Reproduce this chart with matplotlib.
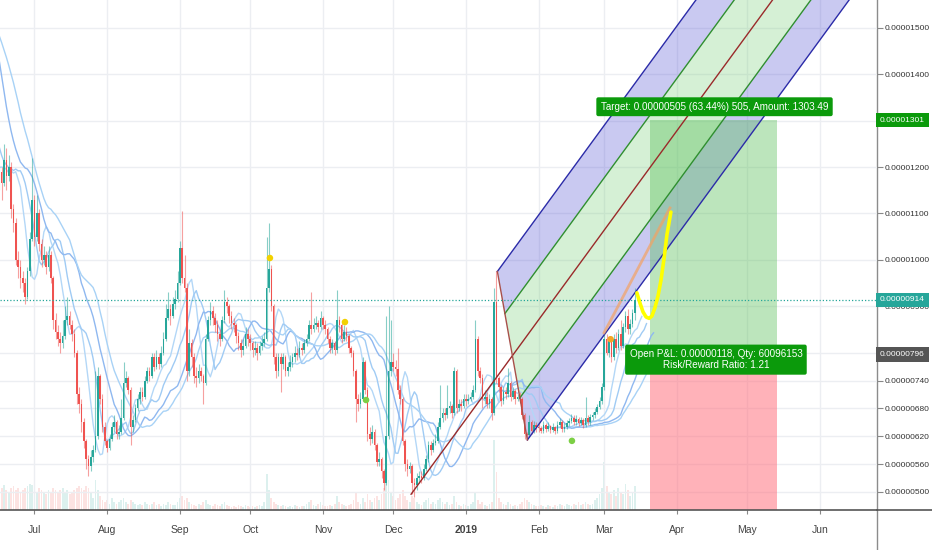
import numpy as np
import pandas as pd
import matplotlib
matplotlib.use('Agg')
import matplotlib.pyplot as plt
import matplotlib.dates as mdates
from matplotlib.patches import Rectangle, Polygon
from matplotlib.lines import Line2D
import matplotlib.transforms as mtrans

plt.rcParams['font.family'] = ['Liberation Sans', 'DejaVu Sans']

# prices are in units of 1e-8 (satoshi), one candle per day from 2018-06-16
start = pd.Timestamp('2018-06-16')
first_open = 1170
closes = [
    1190, 1165, 1215, 1180, 1200, 1110, 1080, 1000, 985, 960,
    950, 920, 975, 1045, 1130, 1050, 1100, 1035, 1000, 1010,
    985, 1010, 960, 870, 845, 830, 820, 835, 870, 880,
    860, 840, 800, 710, 690, 650, 610, 570, 555, 575,
    590, 620, 750, 700, 640, 610, 595, 615, 640, 650,
    625, 630, 660, 735, 745, 720, 640, 655, 680, 700,
    715, 705, 740, 760, 750, 790, 770, 790, 775, 800,
    830, 875, 895, 880, 905, 915, 950, 1025, 960, 940,
    760, 820, 790, 750, 745, 760, 750, 735, 830, 870,
    890, 875, 860, 840, 830, 870, 910, 900, 880, 865,
    860, 835, 820, 805, 815, 840, 830, 820, 805, 810,
    800, 815, 820, 830, 940, 980, 900, 790, 760, 790,
    775, 790, 760, 770, 780, 790, 800, 795, 810, 805,
    820, 830, 860, 850, 860, 865, 855, 875, 860, 850,
    830, 810, 820, 805, 870, 860, 830, 845, 835, 810,
    800, 760, 700, 690, 700, 780, 720, 625, 615, 630,
    600, 565, 570, 545, 520, 620, 760, 780, 770, 765,
    720, 700, 610, 560, 550, 555, 520, 515, 530, 535,
    530, 550, 570, 600, 590, 605, 610, 640, 660, 670,
    665, 680, 685, 670, 760, 680, 690, 685, 700, 695,
    700, 705, 720, 830, 760, 745, 700, 705, 690, 700,
    670, 910, 745, 725, 695, 715, 710, 735, 705, 718,
    700, 705, 700, 665, 625, 622, 650, 632, 645, 640,
    638, 632, 645, 636, 642, 634, 640, 632, 645, 650,
    636, 640, 648, 652, 660, 650, 658, 648, 655, 645,
    660, 650, 662, 665, 672, 682, 695, 725, 830, 800,
    825, 790, 830, 810, 840, 815, 855, 880, 850, 862, 885, 914,
]
highs = [
    1205, 1200, 1250, 1240, 1225, 1210, 1120, 1090, 1020, 1000,
    975, 960, 985, 1060, 1220, 1140, 1140, 1110, 1045, 1030,
    1020, 1030, 1020, 965, 885, 860, 845, 870, 900, 920,
    890, 870, 850, 805, 725, 700, 660, 615, 580, 590,
    600, 760, 770, 755, 710, 650, 615, 625, 650, 665,
    655, 645, 700, 780, 760, 750, 725, 665, 690, 710,
    725, 725, 750, 770, 770, 800, 800, 805, 800, 815,
    845, 905, 930, 905, 920, 935, 975, 1040, 1105, 1010,
    950, 850, 830, 800, 770, 775, 770, 755, 840, 880,
    910, 900, 885, 870, 850, 880, 935, 920, 905, 890,
    875, 865, 845, 830, 830, 855, 850, 840, 825, 825,
    820, 825, 835, 845, 1050, 1080, 990, 905, 800, 800,
    800, 800, 795, 780, 795, 800, 815, 810, 825, 820,
    830, 840, 870, 930, 875, 880, 870, 890, 880, 870,
    855, 835, 830, 825, 935, 880, 865, 860, 855, 840,
    815, 805, 765, 710, 715, 790, 785, 725, 640, 645,
    635, 605, 585, 575, 550, 880, 900, 870, 800, 785,
    810, 730, 705, 615, 570, 565, 560, 530, 540, 545,
    545, 560, 580, 610, 610, 615, 625, 650, 730, 680,
    680, 730, 695, 690, 770, 765, 700, 700, 710, 710,
    710, 715, 730, 870, 835, 770, 755, 720, 715, 710,
    705, 940, 976, 750, 730, 725, 725, 767, 740, 725,
    722, 712, 715, 705, 670, 630, 665, 655, 652, 650,
    648, 642, 652, 648, 650, 645, 648, 642, 652, 660,
    655, 648, 655, 660, 668, 665, 665, 662, 662, 660,
    705, 665, 668, 672, 680, 690, 705, 735, 840, 840,
    835, 830, 840, 845, 850, 870, 865, 890, 895, 872, 895, 940,
]
lows = [
    1150, 1130, 1160, 1150, 1170, 1090, 1060, 990, 960, 940,
    930, 905, 915, 965, 1040, 1030, 1040, 1020, 985, 990,
    970, 975, 950, 850, 830, 815, 800, 810, 830, 860,
    850, 825, 790, 690, 670, 630, 595, 550, 535, 545,
    565, 585, 615, 690, 630, 600, 585, 590, 610, 630,
    615, 615, 625, 655, 725, 710, 600, 630, 650, 675,
    690, 695, 700, 735, 740, 745, 760, 765, 765, 770,
    795, 825, 870, 860, 875, 895, 910, 945, 950, 930,
    740, 750, 770, 735, 725, 735, 740, 690, 730, 825,
    860, 860, 845, 825, 815, 825, 865, 885, 865, 850,
    845, 820, 805, 790, 795, 810, 815, 805, 790, 795,
    785, 795, 805, 815, 825, 930, 890, 775, 745, 750,
    715, 765, 750, 750, 760, 770, 780, 785, 790, 795,
    800, 815, 825, 840, 845, 850, 845, 850, 850, 840,
    820, 800, 800, 795, 800, 845, 820, 825, 825, 800,
    790, 750, 650, 675, 680, 695, 710, 610, 600, 605,
    590, 555, 555, 530, 505, 515, 615, 750, 760, 750,
    710, 690, 600, 545, 535, 540, 495, 490, 505, 520,
    520, 525, 545, 565, 580, 585, 600, 605, 635, 650,
    655, 660, 670, 660, 665, 670, 675, 675, 680, 685,
    690, 695, 700, 715, 750, 735, 680, 690, 680, 680,
    655, 665, 735, 715, 685, 690, 700, 705, 695, 700,
    690, 695, 692, 658, 615, 612, 618, 625, 626, 630,
    630, 626, 628, 630, 632, 628, 630, 625, 628, 640,
    630, 630, 636, 642, 648, 645, 645, 642, 644, 638,
    640, 645, 645, 655, 660, 668, 678, 690, 720, 795,
    790, 780, 785, 800, 805, 805, 810, 845, 840, 840, 855, 870,
]
volumes = [
    18, 22, 25, 20, 18, 22, 24, 20, 22, 18,
    20, 22, 24, 26, 25, 20, 18, 22, 20, 18,
    16, 20, 18, 22, 20, 18, 20, 22, 18, 20,
    16, 18, 20, 22, 24, 22, 20, 24, 22, 18,
    12, 30, 20, 14, 10, 8, 10, 6, 12, 8,
    6, 8, 10, 12, 8, 6, 10, 8, 6, 5,
    6, 5, 8, 6, 5, 6, 8, 5, 6, 4,
    6, 5, 8, 6, 5, 5, 8, 12, 14, 10,
    12, 8, 6, 5, 4, 6, 5, 8, 10, 6,
    5, 4, 6, 5, 4, 6, 8, 5, 4, 3,
    4, 3, 5, 4, 3, 5, 4, 3, 4, 3,
    4, 5, 4, 8, 36, 20, 12, 8, 6, 5,
    4, 5, 4, 3, 4, 3, 5, 4, 3, 4,
    4, 6, 8, 10, 5, 4, 6, 8, 5, 4,
    4, 5, 4, 6, 14, 8, 6, 5, 4, 5,
    6, 10, 18, 8, 6, 12, 8, 16, 10, 8,
    12, 14, 10, 16, 22, 42, 30, 18, 14, 10,
    12, 16, 20, 14, 10, 8, 14, 12, 8, 6,
    5, 8, 10, 12, 6, 8, 6, 10, 12, 8,
    6, 8, 5, 6, 14, 8, 5, 4, 6, 5,
    4, 6, 8, 18, 10, 6, 8, 5, 4, 6,
    8, 70, 38, 12, 8, 6, 5, 8, 6, 4,
    5, 4, 6, 8, 12, 10, 8, 6, 5, 4,
    4, 5, 4, 3, 5, 4, 3, 5, 4, 6,
    5, 4, 6, 5, 4, 6, 5, 8, 5, 6,
    8, 6, 5, 6, 10, 12, 16, 22, 48, 24,
    18, 16, 20, 14, 22, 18, 16, 26, 20, 14, 18, 24,
]
# closes before the first visible candle, only used to warm up the averages
pre_closes = [
    1450, 1480, 1500, 1520, 1540, 1560, 1580, 1600, 1620, 1640,
    1650, 1620, 1600, 1560, 1520, 1480, 1420, 1380,
    1340, 1300, 1260, 1230, 1210,
    1200, 1190, 1210, 1200, 1195, 1205, 1185,
]
ma_periods = [5, 8, 13, 21]
ma_shifts = [3, 5, 8, 8]

# drawings, days counted from the start date
pf_days = [175.6, 212.4, 225.2]
pf_prices = [495, 975, 612]
trend_days = [257.9, 286.0]
trend_prices = [843, 1112]
curve_days = [271.9, 273.2, 274.5, 275.8, 277.1, 278.3, 279.6, 280.9, 282.2, 283.5, 284.7, 286.4]
curve_prices = [929, 907, 888, 877, 874, 879, 897, 922, 957, 1004, 1054, 1103]
dot_days = [115.4, 147.4, 260.7, 156.4, 244.2]
dot_prices = [1004, 866, 829, 698, 610]
dot_colors = ['#f2d100', '#f2d100', '#f5a623', '#7ccf45', '#7ccf45']
entry, target, stop = 796, 1301, 379
pos_start, pos_end = '2019-03-20 12:00', '2019-05-13 14:00'
last_price = 914

yticks = [500, 560, 620, 680, 740, 800, 900, 1000, 1100, 1200, 1300, 1400, 1500]
hidden_ticks = [800, 1300]   # sit under the price tags
months = pd.date_range('2018-07-01', '2019-06-01', freq='MS')
month_labels = ['Jul', 'Aug', 'Sep', 'Oct', 'Nov', 'Dec', '2019', 'Feb', 'Mar', 'Apr', 'May', 'Jun']

# ---------------------------------------------------------------
c = np.array(closes, float)
o = np.array([first_open] + closes[:-1], float)
h = np.array(highs, float)
l = np.array(lows, float)
dates = pd.date_range(start, periods=len(c), freq='D')
xd = mdates.date2num(dates)


def day2num(days):
    return mdates.date2num(start + pd.to_timedelta(np.asarray(days, float), unit='D'))


fig = plt.figure(figsize=(9.32, 5.5), dpi=100)
rect = [0, 40 / 550, 877 / 932, 510 / 550]
ax_v = fig.add_axes(rect)
ax = fig.add_axes(rect, sharex=ax_v)
ax.set_zorder(2)
ax.patch.set_visible(False)

up = c >= o
up_col, dn_col = '#26a69a', '#ef5350'

# volume
ax_v.bar(xd, volumes, width=0.75, color=np.where(up, '#26a69a', '#ef5350'), alpha=0.16)
ax_v.set_ylim(0, 510)
ax_v.set_axis_off()

xmin = mdates.date2num(pd.Timestamp('2018-06-16 07:00'))
xmax = mdates.date2num(pd.Timestamp('2019-06-25 07:00'))
ax.set_xlim(xmin, xmax)
ax.set_ylim(461, 1560)

# grid
for m in mdates.date2num(months):
    ax.axvline(m, color='#eceef2', lw=1, zorder=0)
for t in yticks:
    ax.axhline(t, color='#eceef2', lw=1, zorder=0)

# pitchfork
px = day2num(pf_days)
P1 = np.array([px[0], pf_prices[0]])
P2 = np.array([px[1], pf_prices[1]])
P3 = np.array([px[2], pf_prices[2]])
M = (P2 + P3) / 2
T = 4 * (M - P1)
Q2 = (P2 + M) / 2
Q3 = (P3 + M) / 2
lav = (0.38, 0.38, 0.84, 0.34)
grn = (0.42, 0.8, 0.42, 0.28)
for a, b, col in [(P2, Q2, lav), (Q2, M, grn), (M, Q3, grn), (Q3, P3, lav)]:
    ax.add_patch(Polygon([a, b, b + T, a + T], closed=True, fc=col, ec='none', zorder=1))
for p, col in [(P2, '#2b2ba8'), (P3, '#2b2ba8'), (Q2, '#2f8f2f'), (Q3, '#2f8f2f')]:
    ax.plot([p[0], p[0] + T[0]], [p[1], p[1] + T[1]], color=col, lw=1, zorder=4)
ax.plot([P1[0], M[0] + T[0]], [P1[1], M[1] + T[1]], color='#9a2a2a', lw=1, zorder=4)
ax.plot([P2[0], P3[0]], [P2[1], P3[1]], color='#a8504a', lw=1, zorder=4)

# long position tool
x0 = mdates.date2num(pd.Timestamp(pos_start))
x1 = mdates.date2num(pd.Timestamp(pos_end))
ax.add_patch(Rectangle((x0, entry), x1 - x0, target - entry, fc=(0.35, 0.75, 0.35, 0.4), ec='none', zorder=1.5))
ax.add_patch(Rectangle((x0, stop), x1 - x0, entry - stop, fc=(1.0, 0.45, 0.5, 0.55), ec='none', zorder=1.5))

# moving averages
allc = pd.Series(pre_closes + closes, dtype=float)
npre = len(pre_closes)
ma_cols = ['#b3d7f7', '#a0cbf4', '#8fb8f0', '#a8d2f6']
for per, sh, col in zip(ma_periods, ma_shifts, ma_cols):
    ma = allc.rolling(per).mean().values
    idx = np.arange(len(allc)) - npre + sh
    ax.plot(day2num(idx), ma, color=col, lw=1.0, zorder=2.5)

# candles
ax.vlines(xd[up], l[up], h[up], color=up_col, lw=0.8, alpha=0.55, zorder=3)
ax.vlines(xd[~up], l[~up], h[~up], color=dn_col, lw=0.8, alpha=0.55, zorder=3)
body = np.maximum(np.abs(c - o), 2)
ax.bar(xd, body, bottom=np.minimum(o, c), width=0.7,
       color=np.where(up, up_col, dn_col), zorder=3.2)

# trend line and hand drawn curve
ax.plot(day2num(trend_days), trend_prices, color='#f4a261', alpha=0.7, lw=2, zorder=4)
ax.plot(day2num(curve_days), curve_prices, color='#ffff00', lw=2.6,
        solid_capstyle='round', zorder=5)
ax.scatter(day2num(dot_days), dot_prices, s=22, c=dot_colors, zorder=5, linewidths=0)

# last price line
ax.axhline(last_price, color='#26a69a', lw=0.9, ls=(0, (1, 1.6)), zorder=4)

# position labels
ax.text(day2num(305.0), 1330, 'Target: 0.00000505 (63.44%) 505, Amount: 1303.49',
        color='white', fontsize=7.1, ha='center', va='center', zorder=6,
        bbox=dict(boxstyle='round,pad=0.45,rounding_size=0.2', fc='#0b9a0b', ec='none'))
ax.text(day2num(305.6), 785, 'Open P&L: 0.00000118, Qty: 60096153\nRisk/Reward Ratio: 1.21',
        color='white', fontsize=7.1, ha='center', va='center', zorder=6, linespacing=1.15,
        bbox=dict(boxstyle='round,pad=0.45,rounding_size=0.2', fc='#0b9a0b', ec='none'))

# axes styling
ax.yaxis.tick_right()
ax.set_yticks(yticks)
ax.set_yticklabels(['' if v in hidden_ticks else f'{v * 1e-8:.8f}' for v in yticks])
ax.tick_params(axis='y', direction='out', length=4, width=0.8, color='#888888',
               labelsize=6, labelcolor='#333333', pad=1.5)
ax.set_xticks(mdates.date2num(months))
ax.set_xticklabels(month_labels)
ax.get_xticklabels()[6].set_fontweight('bold')
ax.tick_params(axis='x', direction='out', length=3, width=0.8, color='#888888',
               labelsize=7.5, labelcolor='#444444', pad=8)
for s in ['top', 'left', 'right']:
    ax.spines[s].set_visible(False)
ax.spines['bottom'].set_color('#555555')
ax.spines['bottom'].set_linewidth(1.2)

# axis price tags
tr = mtrans.blended_transform_factory(ax.transAxes, ax.transData)
for val, col in [(target, '#0b9a0b'), (last_price, '#26a69a'), (entry, '#555555')]:
    ax.text(1.0035, val, f'{val * 1e-8:.8f}', transform=tr, color='white', fontsize=6,
            ha='left', va='center', clip_on=False, zorder=10,
            bbox=dict(boxstyle='square,pad=0.45', fc=col, ec='none'))

fig.add_artist(Line2D([877 / 932, 877 / 932], [0, 1], color='#8c8c8c', lw=1))
fig.add_artist(Line2D([877 / 932, 1], [40 / 550, 40 / 550], color='#555555', lw=1.2))

fig.savefig('out.png', dpi=100, facecolor='white')
